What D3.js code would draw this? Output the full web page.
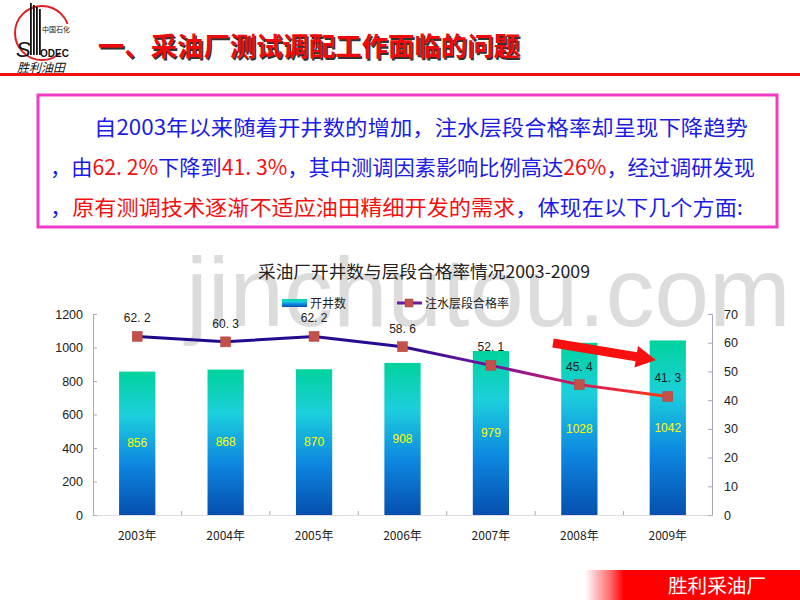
<!DOCTYPE html>
<html>
<head>
<meta charset="utf-8">
<script src="https://cdn.jsdelivr.net/npm/d3@7"></script>
<style>
  body { margin: 0; background: #fff; }
  svg { display: block; }
</style>
</head>
<body>
<svg id="chart"></svg>
<script>
const width = 800;
const height = 600;

// data
const years = ["2003年", "2004年", "2005年", "2006年", "2007年", "2008年", "2009年"];
const wellCounts = [856, 868, 870, 908, 979, 1028, 1042];
const passRates = [62.2, 60.3, 62.2, 58.6, 52.1, 45.4, 41.3];
const leftTicks = [0, 200, 400, 600, 800, 1000, 1200];
const rightTicks = [0, 10, 20, 30, 40, 50, 60, 70];

const cjk = "'Noto Sans CJK SC', 'Noto Sans', sans-serif";
const latin = "Arial, 'Liberation Sans', sans-serif";

const svg = d3.select("#chart")
    .attr("width", width)
    .attr("height", height);

const defs = svg.append("defs");

const barGrad = defs.append("linearGradient")
    .attr("id", "barGrad")
    .attr("x1", 0).attr("y1", 0).attr("x2", 0).attr("y2", 1);
[["0%", "#00d39c"], ["30%", "#1ccfdc"], ["65%", "#0d86e0"], ["100%", "#064fae"]].forEach(s => {
    barGrad.append("stop").attr("offset", s[0]).attr("stop-color", s[1]);
});

// ---------- header ----------
const logo = svg.append("g");
logo.append("circle")
    .attr("cx", 42).attr("cy", 33).attr("r", 27)
    .attr("fill", "none").attr("stroke", "#e02020").attr("stroke-width", 2);
logo.append("rect").attr("x", 60).attr("y", 24).attr("width", 14).attr("height", 40).attr("fill", "#fff");
[30, 33, 36, 39].forEach((x, i) => {
    logo.append("rect").attr("x", x).attr("y", 3 + i * 2).attr("width", 1.8).attr("height", 52 - i * 2).attr("fill", "#111");
});
logo.append("text").attr("x", 42).attr("y", 32).attr("font-family", cjk).attr("font-size", 7)
    .attr("fill", "#111").text("中国石化");
logo.append("text").attr("x", 16).attr("y", 57).attr("font-family", latin).attr("font-size", 22)
    .attr("font-style", "italic").attr("fill", "#111").text("S");
logo.append("text").attr("x", 40).attr("y", 57).attr("font-family", latin).attr("font-size", 10)
    .attr("font-weight", "bold").attr("fill", "#111").text("ODEC");
logo.append("text").attr("x", 17).attr("y", 72).attr("font-family", cjk).attr("font-size", 12)
    .attr("font-style", "italic").attr("fill", "#111").text("胜利油田");

svg.append("text")
    .attr("x", 98).attr("y", 56)
    .attr("font-family", cjk).attr("font-size", 26).attr("font-weight", "bold")
    .attr("fill", "#333").attr("transform", "translate(1.5,1.5)")
    .attr("textLength", 422).attr("lengthAdjust", "spacingAndGlyphs")
    .text("一、采油厂测试调配工作面临的问题");
svg.append("text")
    .attr("x", 98).attr("y", 56)
    .attr("font-family", cjk).attr("font-size", 26).attr("font-weight", "bold")
    .attr("fill", "#f00a0a")
    .attr("textLength", 422).attr("lengthAdjust", "spacingAndGlyphs")
    .text("一、采油厂测试调配工作面临的问题");

svg.append("rect").attr("x", 0).attr("y", 73).attr("width", width).attr("height", 3).attr("fill", "#f01010");

// ---------- text box ----------
svg.append("rect")
    .attr("x", 38).attr("y", 95).attr("width", 739).attr("height", 132)
    .attr("fill", "#fff").attr("stroke", "#f03cc8").attr("stroke-width", 3);

const blue = "#1c1ce6";
const red = "#f51010";
const lines = [
    { x: 94, y: 135, len: 654, parts: [["自2003年以来随着开井数的增加，注水层段合格率却呈现下降趋势", blue]] },
    { x: 50, y: 175, len: 705, parts: [["，由", blue], ["62. 2%", red], ["下降到", blue], ["41. 3%", red],
        ["，其中测调因素影响比例高达", blue], ["26%", red], ["，经过调研发现", blue]] },
    { x: 50, y: 215, len: 693, parts: [["，", blue], ["原有测调技术逐渐不适应油田精细开发的需求", red], ["，体现在以下几个方面:", blue]] }
];
lines.forEach(l => {
    const t = svg.append("text")
        .attr("x", l.x).attr("y", l.y)
        .attr("font-family", cjk).attr("font-size", 21)
        .attr("textLength", l.len).attr("lengthAdjust", "spacingAndGlyphs");
    l.parts.forEach(p => t.append("tspan").attr("fill", p[1]).text(p[0]));
});

// ---------- watermark ----------
svg.append("text")
    .attr("x", 186).attr("y", 326)
    .attr("font-family", latin).attr("font-size", 98)
    .attr("fill", "#dcdcdc")
    .text("jinchutou.com");

// ---------- chart ----------
const plot = { left: 93, right: 712, top: 314, bottom: 515 };

const x = d3.scaleBand()
    .domain(years)
    .range([plot.left, plot.right])
    .paddingInner(0.59)
    .paddingOuter(0.295);
const yLeft = d3.scaleLinear().domain([0, 1200]).range([plot.bottom, plot.top]);
const yRight = d3.scaleLinear().domain([0, 70]).range([plot.bottom, plot.top]);

svg.append("text")
    .attr("x", 424).attr("y", 278)
    .attr("text-anchor", "middle")
    .attr("font-family", cjk).attr("font-size", 17)
    .attr("fill", "#222")
    .attr("textLength", 332).attr("lengthAdjust", "spacingAndGlyphs")
    .text("采油厂开井数与层段合格率情况2003-2009");

// legend
const legend = svg.append("g");
legend.append("rect").attr("x", 282).attr("y", 299).attr("width", 25).attr("height", 8).attr("fill", "url(#barGrad)");
legend.append("text").attr("x", 310).attr("y", 308).attr("font-family", cjk).attr("font-size", 12)
    .attr("fill", "#222").text("开井数");
legend.append("line").attr("x1", 397).attr("x2", 422).attr("y1", 303).attr("y2", 303)
    .attr("stroke", "#6a1aa0").attr("stroke-width", 3);
legend.append("rect").attr("x", 405).attr("y", 299).attr("width", 8).attr("height", 8)
    .attr("fill", "#c0504d").attr("stroke", "#a83c3a").attr("stroke-width", 0.5);
legend.append("text").attr("x", 425).attr("y", 308).attr("font-family", cjk).attr("font-size", 12)
    .attr("fill", "#222").text("注水层段合格率");

// bars
svg.append("g")
    .selectAll("rect")
    .data(wellCounts)
    .enter().append("rect")
    .attr("x", (d, i) => x(years[i]))
    .attr("y", d => yLeft(d))
    .attr("width", x.bandwidth())
    .attr("height", d => plot.bottom - yLeft(d))
    .attr("fill", "url(#barGrad)");

svg.append("g")
    .selectAll("text")
    .data(wellCounts)
    .enter().append("text")
    .attr("x", (d, i) => x(years[i]) + x.bandwidth() / 2)
    .attr("y", d => yLeft(d / 2) + 4)
    .attr("text-anchor", "middle")
    .attr("font-family", latin).attr("font-size", 12)
    .attr("fill", "#ffff00")
    .text(d => d);

// axes
const axisColor = "#a8a8bc";
const gLeft = svg.append("g")
    .attr("transform", "translate(" + plot.left + ",0)")
    .call(d3.axisLeft(yLeft).tickValues(leftTicks).tickFormat(d3.format("d"))
        .tickSizeInner(-4).tickSizeOuter(-4).tickPadding(10));
const gRight = svg.append("g")
    .attr("transform", "translate(" + plot.right + ",0)")
    .call(d3.axisRight(yRight).tickValues(rightTicks).tickFormat(d3.format("d"))
        .tickSizeInner(-4).tickSizeOuter(-4).tickPadding(12));
[gLeft, gRight].forEach(g => {
    g.select(".domain").attr("stroke", axisColor);
    g.selectAll(".tick line").attr("stroke", axisColor);
    g.selectAll(".tick text").attr("font-family", latin).attr("font-size", 12.5).attr("fill", "#222");
});

const gBottom = svg.append("g")
    .attr("transform", "translate(0," + plot.bottom + ")")
    .call(d3.axisBottom(x).tickSize(0).tickPadding(16));
gBottom.select(".domain").attr("stroke", "#c8b0c8").attr("stroke-dasharray", "1,1");
gBottom.selectAll(".tick text").attr("font-family", cjk).attr("font-size", 12).attr("fill", "#222");
gBottom.selectAll(".sep")
    .data(years.slice(1))
    .enter().append("line")
    .attr("x1", d => x(d) - x.step() * x.paddingInner() / 2)
    .attr("x2", d => x(d) - x.step() * x.paddingInner() / 2)
    .attr("y1", 0).attr("y2", -4)
    .attr("stroke", axisColor);

// rate line
const cx = (d, i) => x(years[i]) + x.bandwidth() / 2;
const lineGrad = defs.append("linearGradient")
    .attr("id", "lineGrad")
    .attr("gradientUnits", "userSpaceOnUse")
    .attr("x1", cx(0, 0)).attr("x2", cx(0, 6)).attr("y1", 0).attr("y2", 0);
[["0%", "#1c0a8a"], ["50%", "#2a0a92"], ["68%", "#7a159e"], ["84%", "#d81e5a"], ["100%", "#ff3a10"]].forEach(s => {
    lineGrad.append("stop").attr("offset", s[0]).attr("stop-color", s[1]);
});

svg.append("path")
    .datum(passRates)
    .attr("fill", "none")
    .attr("stroke", "url(#lineGrad)")
    .attr("stroke-width", 3)
    .attr("d", d3.line().x(cx).y(d => yRight(d)));

svg.append("g")
    .selectAll("rect")
    .data(passRates)
    .enter().append("rect")
    .attr("x", (d, i) => cx(d, i) - 5)
    .attr("y", d => yRight(d) - 5)
    .attr("width", 10).attr("height", 10)
    .attr("fill", "#c4504a")
    .attr("stroke", "#b04440").attr("stroke-width", 0.5);

svg.append("g")
    .selectAll("text")
    .data(passRates)
    .enter().append("text")
    .attr("x", cx)
    .attr("y", d => yRight(d) - 14)
    .attr("text-anchor", "middle")
    .attr("font-family", latin).attr("font-size", 12)
    .attr("fill", "#222")
    .text(d => d.toFixed(1).replace(".", ". "));

// red arrow annotation
(function drawArrow(x0, y0, x1, y1) {
    const dx = x1 - x0, dy = y1 - y0, len = Math.hypot(dx, dy);
    const ux = dx / len, uy = dy / len, nx = -uy, ny = ux;
    const shaft = 4.5, head = 11, headLen = 20;
    const bx = x1 - ux * headLen, by = y1 - uy * headLen;
    const pts = [
        [x0 + nx * shaft, y0 + ny * shaft],
        [bx + nx * shaft, by + ny * shaft],
        [bx + nx * head, by + ny * head],
        [x1, y1],
        [bx - nx * head, by - ny * head],
        [bx - nx * shaft, by - ny * shaft],
        [x0 - nx * shaft, y0 - ny * shaft]
    ];
    svg.append("polygon").attr("points", pts.map(p => p.join(",")).join(" ")).attr("fill", "#f81010");
})(553, 343, 656, 360);

// ---------- footer ----------
const footGrad = defs.append("linearGradient")
    .attr("id", "footGrad")
    .attr("x1", 0).attr("x2", 1).attr("y1", 0).attr("y2", 0);
footGrad.append("stop").attr("offset", "0%").attr("stop-color", "#ff0000").attr("stop-opacity", 0);
footGrad.append("stop").attr("offset", "12%").attr("stop-color", "#ff0000").attr("stop-opacity", 0.6);
footGrad.append("stop").attr("offset", "18%").attr("stop-color", "#ff0000").attr("stop-opacity", 1);
footGrad.append("stop").attr("offset", "100%").attr("stop-color", "#ff0000").attr("stop-opacity", 1);
svg.append("rect").attr("x", 585).attr("y", 570).attr("width", 215).attr("height", 30).attr("fill", "url(#footGrad)");
svg.append("text")
    .attr("x", 668).attr("y", 593)
    .attr("font-family", cjk).attr("font-size", 19)
    .attr("fill", "#fff")
    .attr("textLength", 98).attr("lengthAdjust", "spacingAndGlyphs")
    .text("胜利采油厂");
</script>
</body>
</html>
